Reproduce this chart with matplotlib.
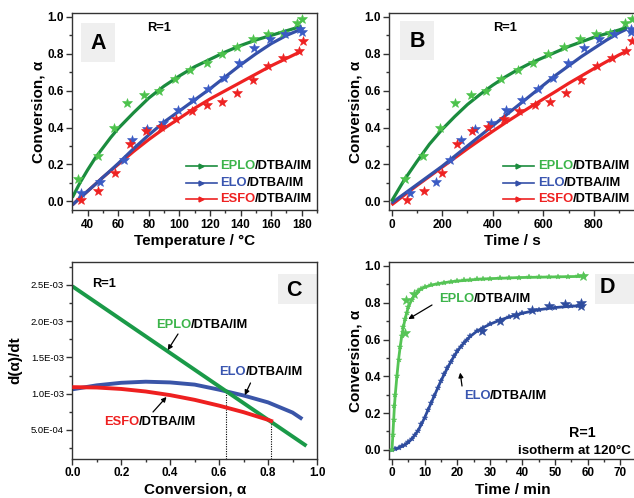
import matplotlib
matplotlib.use("Agg")
import matplotlib.pyplot as plt
from matplotlib.lines import Line2D
from matplotlib.patches import Rectangle
from matplotlib.ticker import MultipleLocator, FuncFormatter

plt.rcParams['font.family'] = ['Liberation Sans', 'DejaVu Sans']
plt.rcParams['font.weight'] = 'bold'
plt.rcParams['axes.labelweight'] = 'bold'

# ---------------- data ----------------
# shared conversion values of the measured points (A and B)
eplo_alpha = [0.12, 0.245, 0.40, 0.535, 0.575, 0.60, 0.665, 0.715, 0.75, 0.80,
              0.835, 0.88, 0.905, 0.915, 0.965, 0.99]
elo_alpha = [0.045, 0.105, 0.225, 0.33, 0.39, 0.425, 0.495, 0.55, 0.61, 0.67,
             0.75, 0.83, 0.88, 0.91, 0.935, 0.92]
esfo_alpha = [0.005, 0.056, 0.155, 0.313, 0.38, 0.405, 0.448, 0.49, 0.52, 0.54,
              0.59, 0.66, 0.735, 0.775, 0.815, 0.87]

# A: conversion vs temperature
a_eplo_T = [34, 47, 57, 66, 77, 87, 97, 107, 118, 128, 138, 148, 158, 168, 177, 180]
a_elo_T = [36, 48, 64, 69, 79, 89, 99, 109, 119, 129, 139, 149, 159, 169, 179, 180]
a_esfo_T = [36, 47, 58, 68, 78, 88, 98, 108, 118, 128, 138, 148, 158, 168, 178, 181]

a_fit_T = [30, 35, 40, 45, 50, 55, 60, 70, 80, 90, 100, 110, 120, 130, 140, 150, 160, 170, 180]
a_fit_eplo = [0.02, 0.10, 0.17, 0.235, 0.29, 0.345, 0.395, 0.48, 0.56, 0.625, 0.68,
              0.73, 0.77, 0.81, 0.845, 0.875, 0.90, 0.925, 0.95]
a_fit_elo = [-0.02, 0.018, 0.055, 0.092, 0.13, 0.167, 0.205, 0.285, 0.36, 0.43, 0.49,
             0.55, 0.61, 0.675, 0.74, 0.80, 0.855, 0.90, 0.935]
a_fit_esfo = [-0.02, 0.018, 0.055, 0.092, 0.13, 0.165, 0.20, 0.27, 0.335, 0.395, 0.45,
              0.505, 0.555, 0.60, 0.645, 0.69, 0.735, 0.775, 0.815]

# B: conversion vs time (s)
b_eplo_t = [54, 125, 192, 249, 313, 373, 434, 500, 561, 620, 683, 743, 806, 864, 923, 950]
b_elo_t = [74, 177, 232, 273, 331, 392, 453, 517, 578, 638, 699, 762, 820, 880, 945, 948]
b_esfo_t = [60, 130, 199, 259, 320, 383, 443, 504, 565, 625, 688, 750, 810, 871, 927, 950]

b_fit_t = [0, 50, 100, 150, 200, 250, 300, 350, 400, 450, 500, 550, 600, 650, 700,
           750, 800, 850, 900, 930]
b_fit_eplo = [0.0, 0.115, 0.215, 0.31, 0.39, 0.46, 0.525, 0.58, 0.63, 0.675, 0.715,
              0.75, 0.78, 0.81, 0.84, 0.865, 0.89, 0.91, 0.93, 0.945]
b_fit_elo = [-0.01, 0.04, 0.09, 0.14, 0.19, 0.245, 0.30, 0.355, 0.41, 0.465, 0.52,
             0.575, 0.63, 0.685, 0.735, 0.785, 0.83, 0.875, 0.915, 0.935]
b_fit_esfo = [-0.02, 0.033, 0.085, 0.135, 0.185, 0.235, 0.285, 0.333, 0.38, 0.426,
              0.47, 0.513, 0.555, 0.597, 0.64, 0.68, 0.72, 0.758, 0.795, 0.815]

# C: rate vs conversion
c_alpha_eplo = [0.0, 0.2, 0.4, 0.6, 0.8, 0.957]
c_rate_eplo = [2.48e-3, 2.02e-3, 1.56e-3, 1.10e-3, 0.64e-3, 0.28e-3]
c_alpha_elo = [0.0, 0.1, 0.2, 0.3, 0.4, 0.5, 0.6, 0.7, 0.8, 0.9, 0.94]
c_rate_elo = [1.06e-3, 1.115e-3, 1.15e-3, 1.165e-3, 1.155e-3, 1.125e-3, 1.055e-3,
              0.975e-3, 0.88e-3, 0.74e-3, 0.65e-3]
c_alpha_esfo = [0.0, 0.1, 0.2, 0.3, 0.4, 0.5, 0.6, 0.7, 0.8, 0.82]
c_rate_esfo = [1.09e-3, 1.085e-3, 1.065e-3, 1.03e-3, 0.98e-3, 0.915e-3, 0.835e-3,
               0.745e-3, 0.64e-3, 0.615e-3]
c_cross_alpha = [0.63, 0.81]
c_cross_rate = [1.03e-3, 0.62e-3]

# D: isothermal conversion vs time (min)
d_t_eplo = [0, 0.25, 0.5, 0.75, 1, 1.5, 2, 2.5, 3, 3.5, 4, 4.5, 5, 6, 7, 8, 9, 10, 12,
            14, 16, 18, 20, 22, 24, 26, 28, 30, 33, 36, 39, 42, 45, 48, 51, 54, 57, 59]
d_a_eplo = [0.0, 0.08, 0.16, 0.24, 0.30, 0.40, 0.49, 0.56, 0.62, 0.67, 0.71, 0.745,
            0.775, 0.815, 0.843, 0.862, 0.875, 0.884, 0.896, 0.903, 0.909, 0.914,
            0.918, 0.921, 0.924, 0.927, 0.929, 0.931, 0.933, 0.935, 0.937, 0.938,
            0.939, 0.940, 0.941, 0.942, 0.943, 0.944]
d_pts_t_eplo = [3.9, 4.4, 6.6, 58.5]
d_pts_a_eplo = [0.635, 0.815, 0.846, 0.945]

d_t_elo = [0, 1, 2, 3, 4, 5, 6, 7, 8, 9, 10, 11, 12, 13, 14, 15, 16, 17, 18, 19, 20,
           21, 22, 23, 24, 26, 28, 30, 33, 36, 40, 45, 50, 55, 57]
d_a_elo = [0.0, 0.005, 0.01, 0.018, 0.028, 0.04, 0.058, 0.08, 0.105, 0.138, 0.175,
           0.215, 0.255, 0.295, 0.335, 0.375, 0.41, 0.445, 0.478, 0.508, 0.535, 0.56,
           0.58, 0.60, 0.617, 0.645, 0.665, 0.683, 0.705, 0.723, 0.743, 0.762, 0.774,
           0.781, 0.783]
d_pts_t_elo = [27.6, 33, 38, 43, 48, 53, 58, 58]
d_pts_a_elo = [0.645, 0.70, 0.735, 0.76, 0.78, 0.795, 0.80, 0.785]

# colours
G_LINE, G_STAR, G_TXT = '#1b8c3e', '#4cc24c', '#3cb44a'
B_LINE, B_STAR, B_TXT = '#3550a8', '#3a5bc4', '#3a56b0'
R_LINE, R_STAR, R_TXT = '#ee2222', '#ee2222', '#ee2020'

# ---------------- layout ----------------
W, H = 634, 498
fig = plt.figure(figsize=(W / 100, H / 100), dpi=100)
LABEL_SIZE = 11
TICK_SIZE = 8.5


def fx(x):
    return x / W


def fy(y):
    return 1 - y / H


def make_axes(x0, y0, x1, y1):
    return fig.add_axes([fx(x0), fy(y1), (x1 - x0) / W, (y1 - y0) / H])


def style(ax, xmaj, xmin, ymaj, ymin):
    for s in ax.spines.values():
        s.set_linewidth(1.0)
        s.set_color('#333333')
    ax.xaxis.set_major_locator(MultipleLocator(xmaj))
    ax.xaxis.set_minor_locator(MultipleLocator(xmin))
    ax.yaxis.set_major_locator(MultipleLocator(ymaj))
    ax.yaxis.set_minor_locator(MultipleLocator(ymin))
    ax.tick_params(which='both', direction='out', top=False, right=False,
                   width=1, color='#333333')
    ax.tick_params(which='major', length=4, pad=2, labelsize=TICK_SIZE)
    ax.tick_params(which='minor', length=2)


def two_tone(ax, x, y, head, color, size=9.3, tail='/DTBA/IM'):
    t1 = ax.annotate(head, xy=(x, H - y), xycoords='figure pixels', color=color,
                     fontsize=size, fontweight='bold', ha='left', va='center',
                     annotation_clip=False)
    ax.annotate(tail, xy=(1, 0.5), xycoords=t1, color='k', fontsize=size,
                fontweight='bold', ha='left', va='center', annotation_clip=False)


def label_box(ax, x0, y0, x1, y1, letter, cx, cy):
    ax.add_patch(Rectangle((fx(x0), fy(y1)), (x1 - x0) / W, (y1 - y0) / H,
                           transform=fig.transFigure, facecolor='#efefef',
                           edgecolor='none', zorder=0.5))
    ax.annotate(letter, xy=(cx, H - cy), xycoords='figure pixels', fontsize=15.5,
                fontweight='bold', ha='center', va='center')


def legend_entry(ax, x0, x1, xt, y, color, tcolor, name):
    fig.add_artist(Line2D([fx(x0), fx(x1)], [fy(y), fy(y)], transform=fig.transFigure,
                          color=color, lw=1.2))
    fig.add_artist(Line2D([fx((x0 + x1) / 2)], [fy(y)], transform=fig.transFigure,
                          marker='>', ms=3.5, color=color, lw=0))
    two_tone(ax, xt, y, name, tcolor)


def plain_text(ax, x, y, s, size=9.3, ha='center'):
    ax.annotate(s, xy=(x, H - y), xycoords='figure pixels', fontsize=size,
                fontweight='bold', ha=ha, va='center', annotation_clip=False)


def arrow(ax, head, tail_px):
    ax.annotate('', xy=head, xycoords='data', xytext=(tail_px[0], H - tail_px[1]),
                textcoords='figure pixels',
                arrowprops=dict(arrowstyle='-|>', color='k', lw=0.9,
                                mutation_scale=7, shrinkA=0, shrinkB=0))


axA = make_axes(72.3, 13.3, 317, 210.5)
axB = make_axes(389.3, 13.3, 636, 210.5)
axC = make_axes(72.3, 262.3, 317, 459)
axD = make_axes(389.3, 262.3, 636, 459)

names = ['EPLO', 'ELO', 'ESFO']
line_cols = [G_LINE, B_LINE, R_LINE]
star_cols = [G_STAR, B_STAR, R_STAR]
txt_cols = [G_TXT, B_TXT, R_TXT]
leg_y = [165.7, 182.7, 199.3]

# ---------------- A ----------------
for fit, c in zip([a_fit_esfo, a_fit_elo, a_fit_eplo], [R_LINE, B_LINE, G_LINE]):
    axA.plot(a_fit_T, fit, color=c, lw=2.3, solid_capstyle='butt', zorder=2)
for T, a, c in zip([a_eplo_T, a_elo_T, a_esfo_T], [eplo_alpha, elo_alpha, esfo_alpha],
                   star_cols):
    axA.plot(T, a, ls='none', marker='*', ms=7.5, color=c, mew=0.4, zorder=3)
axA.set_xlim(30, 190)
axA.set_ylim(-0.05, 1.02)
style(axA, 20, 10, 0.2, 0.1)
axA.set_xlabel('Temperature / °C', fontsize=LABEL_SIZE)
axA.set_ylabel('Conversion, α', fontsize=LABEL_SIZE)
axA.xaxis.set_label_coords(0.5, -0.12)
axA.yaxis.set_label_coords(-0.11, 0.5)
label_box(axA, 81, 22.7, 115, 61.7, 'A', 98, 43)
plain_text(axA, 159.3, 28.3, 'R=1')
for n, lc, tc, y in zip(names, line_cols, txt_cols, leg_y):
    legend_entry(axA, 186, 216.7, 220, y, lc, tc, n)

# ---------------- B ----------------
for fit, c in zip([b_fit_esfo, b_fit_elo, b_fit_eplo], [R_LINE, B_LINE, G_LINE]):
    axB.plot(b_fit_t, fit, color=c, lw=2.3, solid_capstyle='butt', zorder=2)
for t, a, c in zip([b_eplo_t, b_elo_t, b_esfo_t], [eplo_alpha, elo_alpha, esfo_alpha],
                   star_cols):
    axB.plot(t, a, ls='none', marker='*', ms=7.5, color=c, mew=0.4, zorder=3)
axB.set_xlim(-8.7, 966)
axB.set_ylim(-0.05, 1.02)
style(axB, 200, 100, 0.2, 0.1)
axB.set_xlabel('Time / s', fontsize=LABEL_SIZE)
axB.set_ylabel('Conversion, α', fontsize=LABEL_SIZE)
axB.xaxis.set_label_coords(0.5, -0.12)
axB.yaxis.set_label_coords(-0.11, 0.5)
label_box(axB, 400, 21, 434, 60, 'B', 417, 41)
plain_text(axB, 505.3, 28.3, 'R=1')
for n, lc, tc, y in zip(names, line_cols, txt_cols, leg_y):
    legend_entry(axB, 503, 533.7, 537.7, y, lc, tc, n)

# ---------------- C ----------------
axC.plot(c_alpha_elo, c_rate_elo, color='#3a55a8', lw=2.8, solid_capstyle='butt', zorder=2)
axC.plot(c_alpha_esfo, c_rate_esfo, color='#ee2020', lw=2.8, solid_capstyle='butt', zorder=3)
axC.plot(c_alpha_eplo, c_rate_eplo, color='#1a9a48', lw=2.8, solid_capstyle='butt', zorder=2.5)
axC.set_xlim(0, 1.0)
axC.set_ylim(0.1e-3, 2.81e-3)
axC.vlines(c_cross_alpha, 0.1e-3, c_cross_rate, colors='k', linestyles=(0, (1, 1.2)),
           lw=0.8, zorder=1.5)
style(axC, 0.2, 0.1, 0.5e-3, 0.25e-3)
axC.yaxis.set_major_formatter(FuncFormatter(lambda v, p: f'{v:.1E}'))
axC.set_yticks([0.5e-3, 1.0e-3, 1.5e-3, 2.0e-3, 2.5e-3])
axC.tick_params(axis='y', which='major', labelsize=6.8)
plt.setp(axC.get_yticklabels(), fontweight='normal')
axC.set_xlabel('Conversion, α', fontsize=LABEL_SIZE)
axC.set_ylabel('d(α)/dt', fontsize=LABEL_SIZE)
axC.xaxis.set_label_coords(0.5, -0.12)
axC.yaxis.set_label_coords(-0.205, 0.5)
label_box(axC, 278.3, 274, 317, 304, 'C', 294, 290)
plain_text(axC, 104, 284, 'R=1')
two_tone(axC, 156, 325, 'EPLO', G_TXT)
two_tone(axC, 219, 372, 'ELO', B_TXT)
two_tone(axC, 104, 421.7, 'ESFO', R_TXT)
arrow(axC, (0.39, 1.60e-3), (178, 334))
arrow(axC, (0.705, 0.98e-3), (250.5, 383))
arrow(axC, (0.385, 0.955e-3), (153, 412))

# ---------------- D ----------------
axD.plot(d_t_eplo, d_a_eplo, color='#55c455', lw=2.0, marker='*', ms=4, mew=0.3, zorder=3)
axD.plot(d_pts_t_eplo, d_pts_a_eplo, ls='none', marker='*', ms=7.5, color='#55c455',
         mew=0.4, zorder=3)
axD.plot(d_t_elo, d_a_elo, color='#2e4c9e', lw=2.0, marker='*', ms=4, mew=0.3, zorder=2)
axD.plot(d_pts_t_elo, d_pts_a_elo, ls='none', marker='*', ms=7.5, color='#2e4c9e',
         mew=0.4, zorder=2)
axD.set_xlim(-0.83, 74.8)
axD.set_ylim(-0.05, 1.02)
style(axD, 10, 5, 0.2, 0.1)
axD.set_xlabel('Time / min', fontsize=LABEL_SIZE)
axD.set_ylabel('Conversion, α', fontsize=LABEL_SIZE)
axD.xaxis.set_label_coords(0.5, -0.12)
axD.yaxis.set_label_coords(-0.11, 0.5)
label_box(axD, 595, 274, 636, 304, 'D', 607, 287)
two_tone(axD, 438.7, 299, 'EPLO', G_TXT)
two_tone(axD, 463.7, 395.7, 'ELO', B_TXT)
arrow(axD, (5.0, 0.711), (432, 305))
arrow(axD, (20.9, 0.42), (462, 386))
plain_text(axD, 582, 433, 'R=1', size=10.3)
plain_text(axD, 574, 450.7, 'isotherm at 120°C', size=9.6)

fig.savefig('out.png', dpi=100)
